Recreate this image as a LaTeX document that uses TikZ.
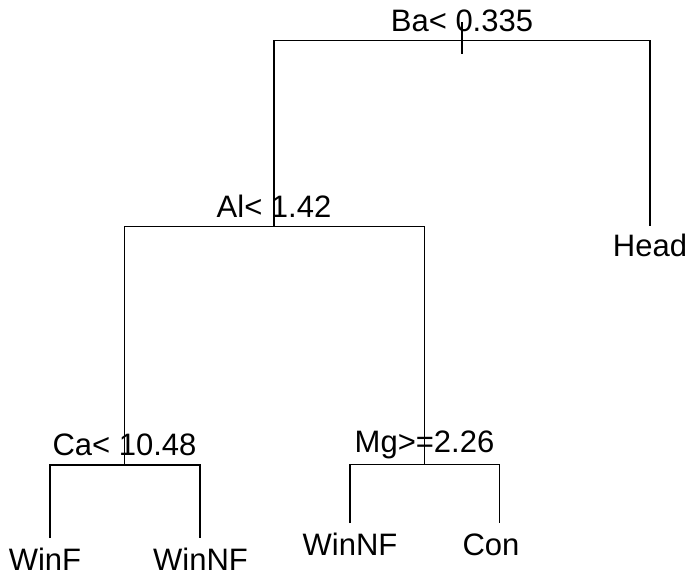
\documentclass[tikz,border=0pt]{standalone}
\usepackage{fontspec}
\setmainfont{Liberation Sans}
\begin{document}
\begin{tikzpicture}[x=1pt,y=-1pt,
  edge/.style={draw=black,line width=1.3pt,line cap=butt},
  lbl/.style={anchor=base,inner sep=0pt,outer sep=0pt,font=\fontsize{31}{31}\selectfont}]
\useasboundingbox[fill=white] (0,0) rectangle (686,573);
% junction coordinates
\coordinate (rootT) at (462,22);
\coordinate (rootB) at (462,54);
\coordinate (rL) at (274,40.7);
\coordinate (rR) at (650,40.7);
\coordinate (al) at (274,226.7);
\coordinate (aL) at (124.5,226.7);
\coordinate (aR) at (424.5,226.7);
\coordinate (headE) at (650,225.7);
\coordinate (ca) at (124.5,465);
\coordinate (cL) at (50,465);
\coordinate (cR) at (200,465);
\coordinate (mg) at (424.5,464.5);
\coordinate (mL) at (350,464.5);
\coordinate (mR) at (499.5,464.5);
\coordinate (winfE) at (50,538);
\coordinate (winnfaE) at (200,538);
\coordinate (winnfbE) at (350,523);
\coordinate (conE) at (499.5,523);
% labels
\node[lbl] (ba) at (462,31.7) {Ba< 0.335};
\node[lbl] (allbl) at (274,217.7) {Al< 1.42};
\node[lbl] (head) at (650,256.7) {Head};
\node[lbl] (calbl) at (124.5,455) {Ca< 10.48};
\node[lbl] (mglbl) at (424.5,452.5) {Mg>=2.26};
\node[lbl] (winf) at (45,570) {WinF};
\node[lbl] (winnfa) at (200.5,570) {WinNF};
\node[lbl] (winnfb) at (350,555) {WinNF};
\node[lbl] (con) at (491,555) {Con};
% branches
\draw[edge] (rootT) -- (rootB);
\draw[edge] (al) -- (rL) -- (rR) -- (headE);
\draw[edge] (ca) -- (aL) -- (aR) -- (mg);
\draw[edge] (winfE) -- (cL) -- (cR) -- (winnfaE);
\draw[edge] (winnfbE) -- (mL) -- (mR) -- (conE);
\end{tikzpicture}
\end{document}
